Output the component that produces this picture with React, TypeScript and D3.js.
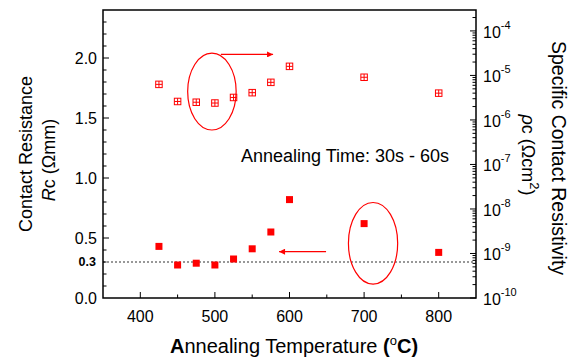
import { useEffect, useRef } from 'react';
import * as d3 from 'd3';

// annealing temperatures (°C)
const temps = [425, 450, 475, 500, 525, 550, 575, 600, 700, 800];
// contact resistance Rc (Ωmm), left axis
const rcValues = [0.43, 0.275, 0.29, 0.275, 0.325, 0.41, 0.55, 0.82, 0.62, 0.38];
// specific contact resistivity ρc (Ωcm²), right axis
const rhoValues = [6.3e-6, 2.6e-6, 2.5e-6, 2.4e-6, 3.2e-6, 4.1e-6, 7.0e-6, 1.6e-5, 9.1e-6, 4.0e-6];

const xTicks = [400, 500, 600, 700, 800];
const leftTicks = [0, 0.5, 1.0, 1.5, 2.0];
const rightExponents = [-10, -9, -8, -7, -6, -5, -4];

const width = 581;
const height = 362;

export default function App() {
  const svgRef = useRef<SVGSVGElement>(null);

  useEffect(() => {
    if (!svgRef.current) return;
    const svg = d3.select(svgRef.current);
    svg.selectAll('*').remove();

    const margin = { top: 10, right: 105, bottom: 64, left: 103 };
    const innerWidth = width - margin.left - margin.right;
    const innerHeight = height - margin.top - margin.bottom;
    const font = 'Liberation Sans, Arial, sans-serif';
    const red = '#ff0000';

    const x = d3.scaleLinear().domain([350, 850]).range([0, innerWidth]);
    const yL = d3.scaleLinear().domain([0, 2.4]).range([innerHeight, 0]);
    const yR = d3.scaleLog().domain([1e-10, Math.pow(10, -3.53)]).range([innerHeight, 0]);

    const g = svg.append('g').attr('transform', `translate(${margin.left},${margin.top})`);

    // reference line at 0.3
    g.append('line')
      .attr('x1', 0).attr('x2', innerWidth)
      .attr('y1', yL(0.3)).attr('y2', yL(0.3))
      .attr('stroke', '#333').attr('stroke-width', 1.2)
      .attr('stroke-dasharray', '2,2');

    // ticks: x
    d3.range(400, 850, 50).forEach(v => {
      const major = v % 100 === 0;
      g.append('line')
        .attr('x1', x(v)).attr('x2', x(v))
        .attr('y1', innerHeight).attr('y2', innerHeight - (major ? 6 : 3.5))
        .attr('stroke', '#000').attr('stroke-width', 1);
    });
    xTicks.forEach(v => {
      g.append('text')
        .attr('x', x(v)).attr('y', innerHeight + 24)
        .attr('text-anchor', 'middle')
        .attr('font-family', font).attr('font-size', 16)
        .attr('fill', '#000')
        .text(v);
    });

    // ticks: left
    d3.range(1, 24).forEach(i => {
      const v = i / 10;
      const major = i % 5 === 0;
      g.append('line')
        .attr('x1', 0).attr('x2', major ? 6 : 3.5)
        .attr('y1', yL(v)).attr('y2', yL(v))
        .attr('stroke', '#000').attr('stroke-width', 1);
    });
    leftTicks.forEach(v => {
      g.append('text')
        .attr('x', -6).attr('y', yL(v))
        .attr('dy', '0.35em')
        .attr('text-anchor', 'end')
        .attr('font-family', font).attr('font-size', 16)
        .attr('fill', '#000')
        .text(v.toFixed(1));
    });
    g.append('text')
      .attr('x', -7).attr('y', yL(0.3))
      .attr('dy', '0.35em')
      .attr('text-anchor', 'end')
      .attr('font-family', font).attr('font-size', 12.5).attr('font-weight', 'bold')
      .attr('fill', '#000')
      .text('0.3');

    // ticks: right (log)
    const [lo, hi] = yR.domain();
    for (let e = -10; e <= -4; e++) {
      for (let m = 1; m <= 9; m++) {
        const v = m * Math.pow(10, e);
        if (v < lo || v > hi) continue;
        g.append('line')
          .attr('x1', innerWidth).attr('x2', innerWidth - (m === 1 ? 6 : 3.5))
          .attr('y1', yR(v)).attr('y2', yR(v))
          .attr('stroke', '#000').attr('stroke-width', 1);
      }
    }
    rightExponents.forEach(e => {
      const t = g.append('text')
        .attr('x', innerWidth + 7).attr('y', yR(Math.pow(10, e)) + 7)
        .attr('font-family', font).attr('font-size', 16)
        .attr('fill', '#000');
      t.append('tspan').text('10');
      t.append('tspan').attr('dy', -9).attr('font-size', 11).text(String(e));
    });

    // frame
    g.append('rect')
      .attr('width', innerWidth).attr('height', innerHeight)
      .attr('fill', 'none').attr('stroke', '#000').attr('stroke-width', 1.5);

    // Rc points (filled squares)
    const s = 7;
    g.selectAll('.rc')
      .data(temps)
      .join('rect')
      .attr('class', 'rc')
      .attr('x', (d) => x(d) - s / 2)
      .attr('y', (_, i) => yL(rcValues[i]) - s / 2)
      .attr('width', s).attr('height', s)
      .attr('fill', red);

    // ρc points (crossed squares)
    const hs = 6.5;
    const rho = g.selectAll('.rho')
      .data(temps)
      .join('g')
      .attr('class', 'rho')
      .attr('transform', (d, i) => `translate(${x(d)},${yR(rhoValues[i])})`);
    rho.append('rect')
      .attr('x', -hs / 2).attr('y', -hs / 2)
      .attr('width', hs).attr('height', hs)
      .attr('fill', '#fff').attr('stroke', red).attr('stroke-width', 1);
    rho.append('path')
      .attr('d', `M${-hs / 2},0H${hs / 2}M0,${-hs / 2}V${hs / 2}`)
      .attr('stroke', red).attr('stroke-width', 1);

    // annotations: ellipses and arrows
    const ellipses = [
      { cx: 496, cy: 1.72, rx: 32.5, ry: 0.32 },
      { cx: 712, cy: 0.456, rx: 33, ry: 0.34 },
    ];
    ellipses.forEach(e => {
      g.append('ellipse')
        .attr('cx', x(e.cx)).attr('cy', yL(e.cy))
        .attr('rx', x(e.cx + e.rx) - x(e.cx))
        .attr('ry', yL(e.cy - e.ry) - yL(e.cy))
        .attr('fill', 'none').attr('stroke', red).attr('stroke-width', 1.2);
    });

    svg.append('defs').append('marker')
      .attr('id', 'arrowhead')
      .attr('viewBox', '0 0 10 10')
      .attr('refX', 10).attr('refY', 5)
      .attr('markerWidth', 8).attr('markerHeight', 6)
      .attr('markerUnits', 'userSpaceOnUse')
      .attr('orient', 'auto')
      .append('path')
      .attr('d', 'M0,0L10,5L0,10Z')
      .attr('fill', red);

    const arrows = [
      { x1: 508, x2: 578, y: 2.03 },
      { x1: 649, x2: 586, y: 0.386 },
    ];
    arrows.forEach(a => {
      g.append('line')
        .attr('x1', x(a.x1)).attr('x2', x(a.x2))
        .attr('y1', yL(a.y)).attr('y2', yL(a.y))
        .attr('stroke', red).attr('stroke-width', 1.2)
        .attr('marker-end', 'url(#arrowhead)');
    });

    g.append('text')
      .attr('x', x(535)).attr('y', yL(1.13))
      .attr('font-family', font).attr('font-size', 18)
      .attr('fill', '#000')
      .text('Annealing Time: 30s - 60s');

    // axis titles
    const xTitle = svg.append('text')
      .attr('x', 294).attr('y', 353)
      .attr('text-anchor', 'middle')
      .attr('font-family', font).attr('font-size', 20)
      .attr('fill', '#000');
    xTitle.append('tspan').attr('font-weight', 'bold').text('A');
    xTitle.append('tspan').text('nnealing Temperature ');
    xTitle.append('tspan').attr('font-weight', 'bold').text('(');
    xTitle.append('tspan').attr('font-size', 13).attr('dy', -8).text('o');
    xTitle.append('tspan').attr('font-weight', 'bold').attr('dy', 8).text('C)');

    svg.append('text')
      .attr('transform', `translate(32,${margin.top + 144}) rotate(-90)`)
      .attr('text-anchor', 'middle')
      .attr('font-family', font).attr('font-size', 18)
      .attr('fill', '#000')
      .text('Contact Resistance');
    const lt = svg.append('text')
      .attr('transform', `translate(55,${margin.top + 150}) rotate(-90)`)
      .attr('text-anchor', 'middle')
      .attr('font-family', font).attr('font-size', 18)
      .attr('fill', '#000');
    lt.append('tspan').attr('font-style', 'italic').text('R');
    lt.append('tspan').text('c (Ωmm)');

    svg.append('text')
      .attr('transform', `translate(552,${margin.top + 148}) rotate(90)`)
      .attr('text-anchor', 'middle')
      .attr('font-family', font).attr('font-size', 19.5)
      .attr('fill', '#000')
      .text('Specific Contact Resistivity');
    const rt = svg.append('text')
      .attr('transform', `translate(522,${margin.top + 145}) rotate(90)`)
      .attr('text-anchor', 'middle')
      .attr('font-family', font).attr('font-size', 18)
      .attr('fill', '#000');
    rt.append('tspan').attr('font-style', 'italic').text('ρ');
    rt.append('tspan').text('c (Ωcm');
    rt.append('tspan').attr('font-size', 13).attr('dy', -8).text('2');
    rt.append('tspan').attr('dy', 8).text(')');
  }, []);

  return (
    <svg
      ref={svgRef}
      width={width}
      height={height}
      style={{ position: 'absolute', left: 0, top: 0, background: '#fff' }}
    />
  );
}
